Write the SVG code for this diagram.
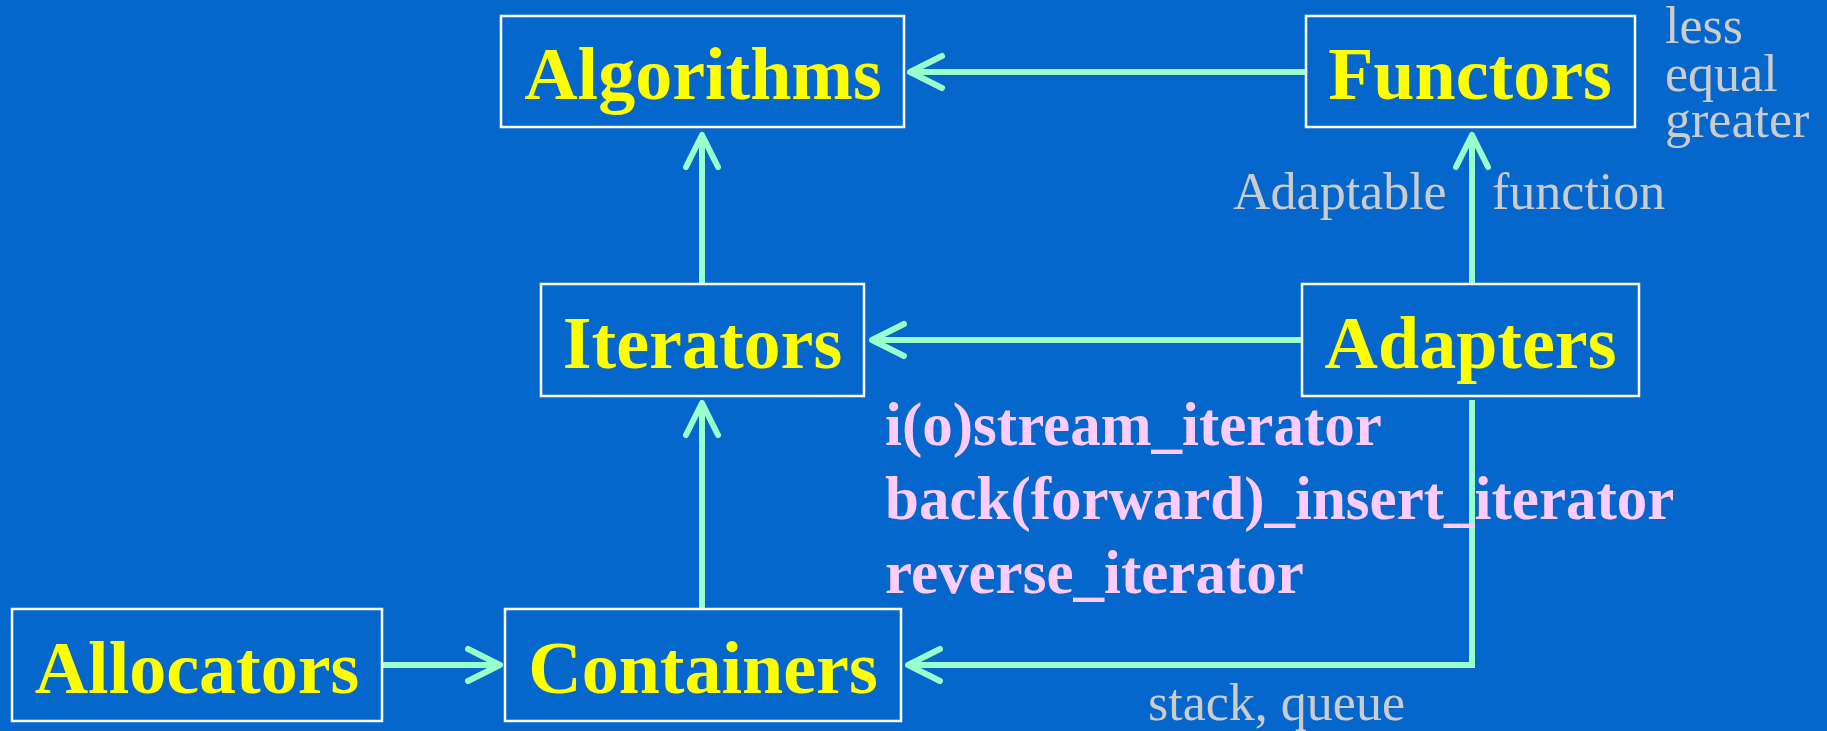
<svg xmlns="http://www.w3.org/2000/svg" width="1827" height="731" viewBox="0 0 1827 731">
  <style>
    .box { fill: none; stroke: #ffffff; stroke-width: 2.5; }
    .name { font-family: "Liberation Serif", "Times New Roman", serif; font-weight: bold; font-size: 74px; fill: #ffff00; text-anchor: middle; }
    .note { font-family: "Liberation Serif", "Times New Roman", serif; font-size: 52px; fill: #cccccc; }
    .adapt { font-family: "Liberation Serif", "Times New Roman", serif; font-weight: bold; font-size: 61px; fill: #ffccff; }
    .link { fill: none; stroke: #99ffcc; stroke-width: 6; stroke-linejoin: miter; }
  </style>
  <defs>
    <!-- open chevron arrowhead, tip at the path end -->
    <marker id="head" markerUnits="userSpaceOnUse" viewBox="0 0 46 44" markerWidth="46" markerHeight="44" refX="40" refY="22" orient="auto">
      <path d="M8,6 L40,22 L8,38" fill="none" stroke="#99ffcc" stroke-width="6" stroke-linecap="round" stroke-linejoin="round"/>
    </marker>
  </defs>

  <rect width="1827" height="731" fill="#0566cc"/>

  <g id="connectors">
    <line class="link" x1="1305" y1="72" x2="910" y2="72" marker-end="url(#head)"/>
    <line class="link" x1="702" y1="284" x2="702" y2="135" marker-end="url(#head)"/>
    <line class="link" x1="1301" y1="340" x2="872" y2="340" marker-end="url(#head)"/>
    <line class="link" x1="1472" y1="284" x2="1472" y2="135" marker-end="url(#head)"/>
    <line class="link" x1="702" y1="609" x2="702" y2="403" marker-end="url(#head)"/>
    <line class="link" x1="382" y1="665" x2="500" y2="665" marker-end="url(#head)"/>
    <polyline class="link" points="1472,400 1472,665 908,665" marker-end="url(#head)"/>
  </g>

  <g id="algorithms">
    <rect class="box" x="501" y="16" width="403" height="111"/>
    <text class="name" x="703" y="99">Algorithms</text>
  </g>

  <g id="functors">
    <rect class="box" x="1306" y="16" width="329" height="111"/>
    <text class="name" x="1470" y="99">Functors</text>
    <text class="note" x="1665" y="43">less</text>
    <text class="note" x="1665" y="91">equal</text>
    <text class="note" x="1665" y="137">greater</text>
  </g>

  <g id="iterators">
    <rect class="box" x="541" y="284" width="323" height="112"/>
    <text class="name" x="702.5" y="368">Iterators</text>
  </g>

  <g id="adapters">
    <rect class="box" x="1302" y="284" width="337" height="112"/>
    <text class="name" x="1470.5" y="368">Adapters</text>
    <text class="note" x="1233" y="209">Adaptable</text>
    <text class="note" x="1492" y="209">function</text>
    <text class="adapt" x="885" y="445">i(o)stream_iterator</text>
    <text class="adapt" x="885" y="519">back(forward)_insert_iterator</text>
    <text class="adapt" x="885" y="593">reverse_iterator</text>
    <text class="note" x="1148" y="720">stack, queue</text>
  </g>

  <g id="allocators">
    <rect class="box" x="12" y="609" width="370" height="112"/>
    <text class="name" x="197" y="693">Allocators</text>
  </g>

  <g id="containers">
    <rect class="box" x="505" y="609" width="396" height="112"/>
    <text class="name" x="703" y="693">Containers</text>
  </g>
</svg>
